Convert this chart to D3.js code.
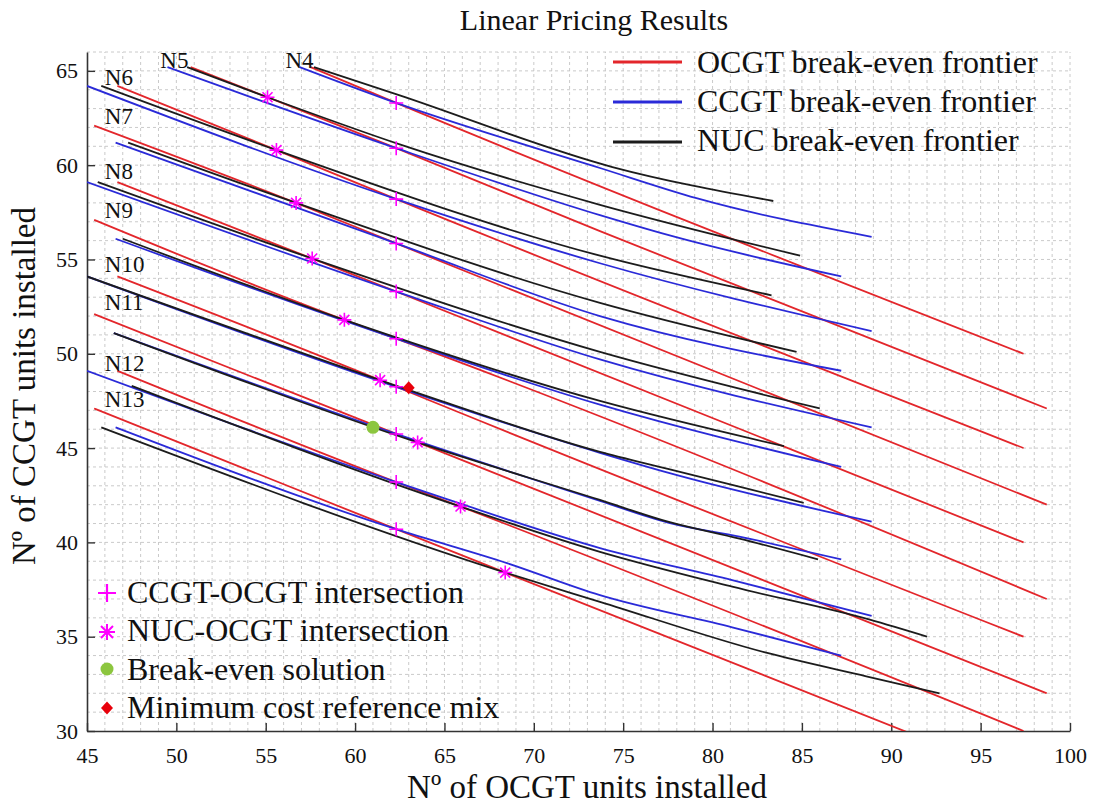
<!DOCTYPE html>
<html>
<head>
<meta charset="utf-8">
<script src="https://cdn.jsdelivr.net/npm/d3@7"></script>
<style>
body { margin: 0; background: #fff; }
text { font-family: "Liberation Serif", "DejaVu Serif", serif; fill: #111; }
</style>
</head>
<body>
<div id="viz"></div>
<script>
// chart values
const groups = ["N4", "N5", "N6", "N7", "N8", "N9", "N10", "N11", "N12", "N13"];

const ocgtLines = [
  [[57.5,65.2],[62.3,63.3],[97.4,50.0]],
  [[50.8,65.2],[55.1,63.6],[62.3,60.9],[73.7,56.5],[98.7,47.1]],
  [[46.7,64.2],[55.6,60.8],[62.3,58.2],[97.4,45.0]],
  [[45.4,62.1],[56.7,58.0],[62.3,55.85],[98.7,42.0]],
  [[46.7,59.1],[57.6,55.05],[62.3,53.3],[97.4,40.0]],
  [[45.4,57.1],[59.4,51.8],[62.3,50.8],[98.7,37.0]],
  [[46.7,54.1],[61.4,48.6],[62.3,48.25],[97.4,35.0]],
  [[45.4,52.1],[62.3,45.75],[63.5,45.3],[98.7,32.0]],
  [[46.7,49.1],[62.3,43.2],[65.9,41.9],[97.4,30.0]],
  [[45.4,47.1],[62.3,40.7],[68.4,38.4],[98.7,27.0]]
];

const ccgtLines = [
  [[56.9,65.2],[62.3,63.3],[73.7,59.85],[79.1,58.25],[88.9,56.2]],
  [[49.5,65.2],[62.3,60.9],[73.7,57.35],[77.5,56.3],[87.2,54.1]],
  [[45.0,64.2],[62.3,58.2],[73.7,54.8],[88.9,51.2]],
  [[46.6,61.2],[62.3,55.85],[73.7,52.0],[87.2,49.1]],
  [[45.0,59.1],[62.3,53.3],[73.7,49.7],[88.9,46.1]],
  [[46.6,56.1],[62.3,50.8],[73.7,47.3],[87.2,44.0]],
  [[45.0,54.1],[62.3,48.25],[73.7,44.75],[77.5,43.7],[88.9,41.1]],
  [[46.5,51.1],[62.3,45.75],[73.7,42.2],[77.5,41.05],[81.5,40.3],[87.2,39.1]],
  [[45.0,49.1],[62.3,43.2],[64.8,42.4],[73.7,39.7],[81.1,38.0],[88.9,36.1]],
  [[46.6,46.1],[62.3,40.7],[68.5,38.9],[73.7,37.2],[81.1,35.5],[87.2,34.0]]
];

const nucLines = [
  [[57.7,65.2],[62.5,63.7],[74.4,59.9],[83.4,58.1]],
  [[50.6,65.2],[55.1,63.6],[62.5,61.1],[73.7,57.9],[84.9,55.2]],
  [[45.8,64.2],[55.6,60.8],[73.7,55.2],[83.3,53.1]],
  [[47.3,61.2],[56.7,58.0],[73.7,52.7],[84.7,50.1]],
  [[45.6,59.1],[57.6,55.05],[73.7,50.1],[86.0,47.1]],
  [[47.0,56.1],[59.4,51.8],[73.7,47.5],[84.0,45.1]],
  [[45.0,54.1],[61.4,48.6],[64.8,47.5],[73.7,44.8],[77.5,43.9],[85.1,42.1]],
  [[46.5,51.1],[63.5,45.3],[73.7,42.25],[77.5,41.1],[81.5,40.2],[85.9,39.1]],
  [[47.5,48.3],[65.9,41.9],[73.7,39.5],[81.1,37.65],[88.8,35.9],[92.0,35.0]],
  [[45.8,46.1],[68.4,38.4],[73.7,36.85],[83.0,34.15],[88.6,32.9],[92.7,32.0]]
];

// group label anchors (data units)
const labelX = [56.1, 49.1, 46.0, 46.0, 46.0, 46.0, 46.0, 46.0, 46.0, 46.0];
const labelY = [65.15, 65.15, 64.25, 62.2, 59.25, 57.2, 54.35, 52.3, 49.1, 47.2];

const plusPts = [[62.3,63.3],[62.3,60.9],[62.3,58.2],[62.3,55.85],[62.3,53.3],[62.3,50.8],[62.3,48.25],[62.3,45.75],[62.3,43.2],[62.3,40.7]];
const starPts = [[55.1,63.6],[55.6,60.8],[56.7,58.0],[57.6,55.05],[59.4,51.8],[61.4,48.6],[63.5,45.3],[65.9,41.9],[68.4,38.4]];
const breakEven = [61.0, 46.1];
const minCost = [63.0, 48.2];

const xTicks = [45,50,55,60,65,70,75,80,85,90,95,100];
const yTicks = [30,35,40,45,50,55,60,65];

const lineLegend = ["OCGT break-even frontier", "CCGT break-even frontier", "NUC break-even frontier"];
const markerLegend = ["CCGT-OCGT intersection", "NUC-OCGT intersection", "Break-even solution", "Minimum cost reference mix"];

const width = 1097;
const height = 805;
const RED = "#e3262b", BLUE = "#2a2ad8", BLACK = "#1c1c1c", MAG = "#f0f";

const svg = d3.select("#viz").append("svg")
    .attr("width", width)
    .attr("height", height);

const x = d3.scaleLinear().domain([45, 100]).range([87, 1070]);
const y = d3.scaleLinear().domain([30, 66]).range([731, 52]);

// grid every unit, dashed
svg.append("g")
  .selectAll("line")
  .data(d3.range(46, 101))
  .join("line")
    .attr("x1", d => x(d)).attr("x2", d => x(d))
    .attr("y1", y(30)).attr("y2", y(66))
    .attr("stroke", "#c4c4c4").attr("stroke-width", 0.9)
    .attr("stroke-dasharray", "3,3");
svg.append("g")
  .selectAll("line")
  .data(d3.range(31, 67))
  .join("line")
    .attr("x1", x(45)).attr("x2", x(100))
    .attr("y1", d => y(d)).attr("y2", d => y(d))
    .attr("stroke", "#c4c4c4").attr("stroke-width", 0.9)
    .attr("stroke-dasharray", "3,3");

// axes, ticks pointing inward
const xAxis = svg.append("g")
    .attr("transform", "translate(0," + y(30) + ")")
    .call(d3.axisBottom(x).tickValues(xTicks).tickSizeInner(-8).tickSizeOuter(0).tickPadding(16));
const yAxis = svg.append("g")
    .attr("transform", "translate(" + x(45) + ",0)")
    .call(d3.axisLeft(y).tickValues(yTicks).tickSizeInner(-8).tickSizeOuter(0).tickPadding(9));
[xAxis, yAxis].forEach(a => {
  a.select(".domain").attr("stroke", "#333").attr("stroke-width", 1.6);
  a.selectAll(".tick line").attr("stroke", "#333").attr("stroke-width", 1.4);
  a.selectAll(".tick text")
    .style("font-family", '"Liberation Serif", serif')
    .style("font-size", "22px")
    .attr("fill", "#222");
});

// frontier lines
svg.append("clipPath").attr("id", "clip")
  .append("rect")
    .attr("x", x(45)).attr("y", y(66))
    .attr("width", x(100) - x(45)).attr("height", y(30) - y(66));

const line = d3.line()
    .x(d => x(d[0]))
    .y(d => y(d[1]))
    .curve(d3.curveMonotoneX);
const plotG = svg.append("g").attr("clip-path", "url(#clip)");

groups.forEach((g, i) => {
  plotG.append("path").datum(ocgtLines[i])
    .attr("d", line).attr("fill", "none").attr("stroke", RED).attr("stroke-width", 1.8);
  plotG.append("path").datum(ccgtLines[i])
    .attr("d", line).attr("fill", "none").attr("stroke", BLUE).attr("stroke-width", 1.8);
  plotG.append("path").datum(nucLines[i])
    .attr("d", line).attr("fill", "none").attr("stroke", BLACK).attr("stroke-width", 1.8);
});

// group labels
svg.append("g")
  .selectAll("text")
  .data(groups)
  .join("text")
    .attr("x", (d, i) => x(labelX[i]))
    .attr("y", (d, i) => y(labelY[i]))
    .style("font-size", "23px")
    .text(d => d);

// markers
const plusPath = "M-7,0H7M0,-7V7";
const starPath = "M-7,0H7M0,-7V7M-5,-5L5,5M-5,5L5,-5";

svg.append("g")
  .selectAll("path")
  .data(plusPts)
  .join("path")
    .attr("transform", d => "translate(" + x(d[0]) + "," + y(d[1]) + ")")
    .attr("d", plusPath)
    .attr("stroke", MAG).attr("stroke-width", 1.6).attr("fill", "none");

svg.append("g")
  .selectAll("path")
  .data(starPts)
  .join("path")
    .attr("transform", d => "translate(" + x(d[0]) + "," + y(d[1]) + ")")
    .attr("d", starPath)
    .attr("stroke", MAG).attr("stroke-width", 1.6).attr("fill", "none");

svg.append("circle")
    .attr("cx", x(breakEven[0])).attr("cy", y(breakEven[1]))
    .attr("r", 6.5).attr("fill", "#8cc63f");

svg.append("path")
    .attr("transform", "translate(" + x(minCost[0]) + "," + y(minCost[1]) + ")")
    .attr("d", "M0,-6.5L6,0L0,6.5L-6,0Z")
    .attr("fill", "#e8000b");

// title and axis labels
svg.append("text")
    .attr("x", 594).attr("y", 30)
    .attr("text-anchor", "middle")
    .style("font-size", "30px")
    .text("Linear Pricing Results");

svg.append("text")
    .attr("x", 587).attr("y", 798)
    .attr("text-anchor", "middle")
    .style("font-size", "33px")
    .text("Nº of OCGT units installed");

svg.append("text")
    .attr("transform", "translate(35,386) rotate(-90)")
    .attr("text-anchor", "middle")
    .style("font-size", "33px")
    .text("Nº of CCGT units installed");

// legend, top right
const legColors = [RED, BLUE, BLACK];
const legTop = svg.append("g");
legTop.selectAll("line")
  .data(lineLegend)
  .join("line")
    .attr("x1", 613).attr("x2", 682)
    .attr("y1", (d, i) => 62 + i * 40).attr("y2", (d, i) => 62 + i * 40)
    .attr("stroke", (d, i) => legColors[i]).attr("stroke-width", 3);
legTop.selectAll("text")
  .data(lineLegend)
  .join("text")
    .attr("x", 697)
    .attr("y", (d, i) => 73 + i * 39)
    .style("font-size", "32px")
    .text(d => d);

// legend, bottom left
const legBot = svg.append("g");
legBot.selectAll("text")
  .data(markerLegend)
  .join("text")
    .attr("x", 127)
    .attr("y", (d, i) => 603 + i * 38.3)
    .style("font-size", "32px")
    .text(d => d);
legBot.append("path").attr("transform", "translate(107,593)")
    .attr("d", "M-9,0H9M0,-9V9").attr("stroke", MAG).attr("stroke-width", 2.2);
legBot.append("path").attr("transform", "translate(107,632)")
    .attr("d", "M-8,0H8M0,-8V8M-6,-6L6,6M-6,6L6,-6").attr("stroke", MAG).attr("stroke-width", 2);
legBot.append("circle").attr("cx", 107).attr("cy", 669).attr("r", 6.5).attr("fill", "#8cc63f");
legBot.append("path").attr("transform", "translate(107,708)")
    .attr("d", "M0,-6.5L6,0L0,6.5L-6,0Z").attr("fill", "#e8000b");
</script>
</body>
</html>
